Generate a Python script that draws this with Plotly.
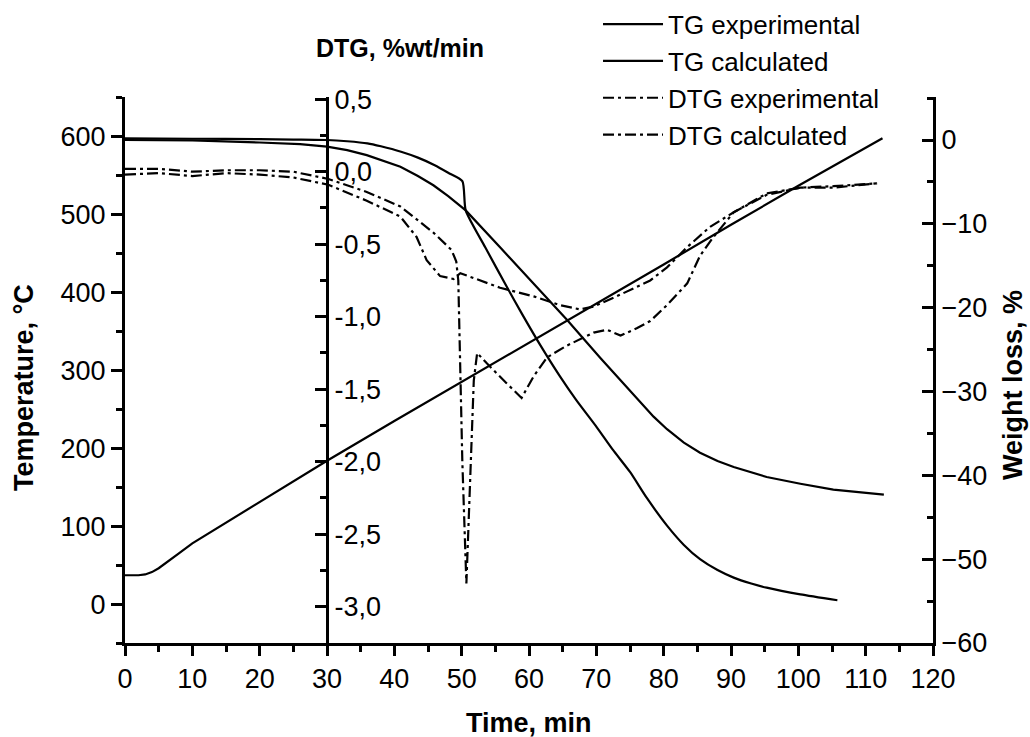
import plotly.graph_objects as go

# ---- data ----
t_temp = [0, 2, 3, 4, 5, 6, 8, 10, 20, 30, 40, 50, 60, 70, 80, 90, 100, 112.5]
temp = [37, 37, 38, 41, 46, 52, 65, 78, 131, 184, 235, 285, 335, 386, 436, 487, 537, 598]

t_tg_exp = [0, 10, 20, 25, 30, 33, 36, 38, 41, 43.5, 46, 48, 50.1, 50.6, 53.5, 56.7, 59, 61.7, 64.6, 67,
            70.1, 72.5, 75, 77.5, 80.5, 83, 85.4, 88, 90.4, 93, 95.3, 100.3, 105.8]
tg_exp = [0.2, 0.15, 0.1, 0.05, 0.0, -0.15, -0.4, -0.75, -1.4, -2.1, -3.0, -3.9, -4.9, -8.4, -12.8, -17.5, -20.8,
          -24.5, -28.2, -31.0, -34.3, -37.0, -39.6, -42.7, -46.0, -48.3, -50.0, -51.3, -52.2, -52.9, -53.4, -54.2, -54.9]

t_tg_calc = [0, 10, 20, 26, 30, 33, 35.9, 38.5, 40.9, 43.5, 45.8, 48, 50.6, 55.7, 60.7, 65.6, 70.6, 73.6, 76, 78.5,
             80.5, 83, 85.4, 88, 90.4, 95.3, 100.3, 105.2, 112.7]
tg_calc = [0.0, -0.05, -0.3, -0.5, -0.8, -1.2, -1.8, -2.5, -3.2, -4.3, -5.4, -6.7, -8.4, -12.8, -17.2, -21.4, -26.0,
           -28.7, -30.8, -33.0, -34.5, -36.1, -37.3, -38.3, -39.0, -40.2, -41.0, -41.7, -42.3]

t_dtg_exp = [0, 5, 10, 15, 20, 25, 30.2, 35.9, 40.9, 45.8, 48.5, 49.2, 49.5, 50.1, 50.7, 51.2, 51.8, 52.3, 53.7,
             56.7, 58.9, 60.7, 62.7, 65.6, 69.6, 71.6, 73.6, 76, 78, 80.5, 83.5, 85.4, 87.4, 90.4, 95.3, 100.3,
             105.2, 111.7]
dtg_exp = [0.02, 0.02, 0.0, 0.01, 0.01, 0.0, -0.05, -0.14, -0.24, -0.42, -0.54, -0.62, -0.75, -2.0, -2.84, -2.2,
           -1.44, -1.25, -1.32, -1.46, -1.56, -1.41, -1.28, -1.2, -1.11, -1.09, -1.13, -1.08, -1.03, -0.92, -0.77,
           -0.58, -0.45, -0.28, -0.16, -0.11, -0.11, -0.08]

t_dtg_calc = [0, 5, 10, 15, 20, 25, 30.2, 35.9, 40.9, 43.3, 44.8, 46.8, 48.8, 49.8, 55.7, 60.7, 64.6, 67.6, 69.6,
              73, 78, 80.5, 83.5, 86.9, 90.4, 95.3, 100.3, 105.2, 111.7]
dtg_calc = [-0.02, -0.01, -0.03, -0.01, -0.02, -0.04, -0.09, -0.2, -0.31, -0.45, -0.61, -0.72, -0.74, -0.70, -0.80,
            -0.86, -0.92, -0.95, -0.93, -0.86, -0.75, -0.66, -0.52, -0.38, -0.28, -0.15, -0.11, -0.10, -0.08]

x_ticks = list(range(0, 121, 10))
temp_ticks = [0, 100, 200, 300, 400, 500, 600]
dtg_tickvals = [-3.0, -2.5, -2.0, -1.5, -1.0, -0.5, 0.0, 0.5]
dtg_ticktext = ["-3,0", "-2,5", "-2,0", "-1,5", "-1,0", "-0,5", "0,0", "0,5"]
wl_ticks = [-60, -50, -40, -30, -20, -10, 0]

FONT = "Liberation Sans"
BLACK = "black"
DASHDOT = "11px,4px,3px,4px"

fig = go.Figure()
fig.add_trace(go.Scatter(x=t_temp, y=temp, mode="lines", line=dict(color=BLACK, width=2.2),
                         showlegend=False, yaxis="y"))
fig.add_trace(go.Scatter(x=t_tg_exp, y=tg_exp, mode="lines", name="TG experimental",
                         line=dict(color=BLACK, width=2.2, shape="spline", smoothing=0.6), yaxis="y3"))
fig.add_trace(go.Scatter(x=t_tg_calc, y=tg_calc, mode="lines", name="TG calculated",
                         line=dict(color=BLACK, width=2.2), yaxis="y3"))
fig.add_trace(go.Scatter(x=t_dtg_exp, y=dtg_exp, mode="lines", name="DTG experimental",
                         line=dict(color=BLACK, width=2.2, dash=DASHDOT), yaxis="y2"))
fig.add_trace(go.Scatter(x=t_dtg_calc, y=dtg_calc, mode="lines", name="DTG calculated",
                         line=dict(color=BLACK, width=2.2, dash=DASHDOT), yaxis="y2"))

tickfont = dict(family=FONT, size=27, color=BLACK)
titlefont = dict(family=FONT, size=27, color=BLACK, weight="bold")

fig.update_layout(
    width=1030, height=737,
    margin=dict(l=125, r=97, t=97, b=94, autoexpand=False),
    paper_bgcolor="white", plot_bgcolor="white",
    font=dict(family=FONT, color=BLACK),
    xaxis=dict(range=[0, 120], tickvals=x_ticks, ticks="outside", ticklen=10, tickwidth=2.5,
               minor=dict(dtick=5, tick0=0, ticks="outside", ticklen=6, tickwidth=2.5, tickcolor=BLACK),
               showline=True, linewidth=3, linecolor=BLACK, tickcolor=BLACK, showgrid=False,
               zeroline=False, tickfont=tickfont),
    yaxis=dict(range=[-50, 651], tickvals=temp_ticks, ticks="outside", ticklen=11, tickwidth=2.5,
               minor=dict(dtick=50, tick0=0, ticks="outside", ticklen=6, tickwidth=2.5, tickcolor=BLACK),
               showline=True, linewidth=3, linecolor=BLACK, tickcolor=BLACK, showgrid=False,
               zeroline=False, tickfont=tickfont),
    yaxis2=dict(range=[-3.25, 0.515], overlaying="y", anchor="free", position=0.25, side="right",
                tickvals=dtg_tickvals, ticktext=dtg_ticktext, ticks="inside", ticklen=11, tickwidth=2.5,
                minor=dict(dtick=0.25, tick0=0, ticks="inside", ticklen=6, tickwidth=2.5, tickcolor=BLACK),
                showline=True, linewidth=3, linecolor=BLACK, tickcolor=BLACK, showgrid=False,
                zeroline=False, tickfont=tickfont),
    yaxis3=dict(range=[-60, 5.13], overlaying="y", anchor="x", side="right",
                tickvals=wl_ticks, ticks="inside", ticklen=11, tickwidth=2.5,
                minor=dict(dtick=5, tick0=0, ticks="inside", ticklen=6, tickwidth=2.5, tickcolor=BLACK),
                showline=True, linewidth=3, linecolor=BLACK, tickcolor=BLACK, showgrid=False,
                zeroline=False, tickfont=tickfont),
    legend=dict(xref="container", yref="container", x=0.5806, y=0.999, xanchor="left", yanchor="top",
                bgcolor="rgba(0,0,0,0)", font=dict(family=FONT, size=26, color=BLACK),
                tracegroupgap=0, itemwidth=60),
    showlegend=True,
)

# axis titles
fig.add_annotation(text="Time, min", xref="paper", yref="paper", x=0.5, y=-0.1465,
                   xanchor="center", yanchor="middle", showarrow=False, font=titlefont)
fig.add_annotation(text="Temperature, °C", xref="paper", yref="paper", x=-0.125, y=0.467,
                   xanchor="center", yanchor="middle", textangle=-90, showarrow=False, font=titlefont)
fig.add_annotation(text="Weight loss, %", xref="paper", yref="paper", x=1.099, y=0.4725,
                   xanchor="center", yanchor="middle", textangle=-90, showarrow=False, font=titlefont)
fig.add_annotation(text="DTG, %wt/min", xref="paper", yref="paper", x=0.2345, y=1.0897,
                   xanchor="left", yanchor="middle", showarrow=False,
                   font=dict(family=FONT, size=25, color=BLACK, weight="bold"))

fig.write_html("out.html")
